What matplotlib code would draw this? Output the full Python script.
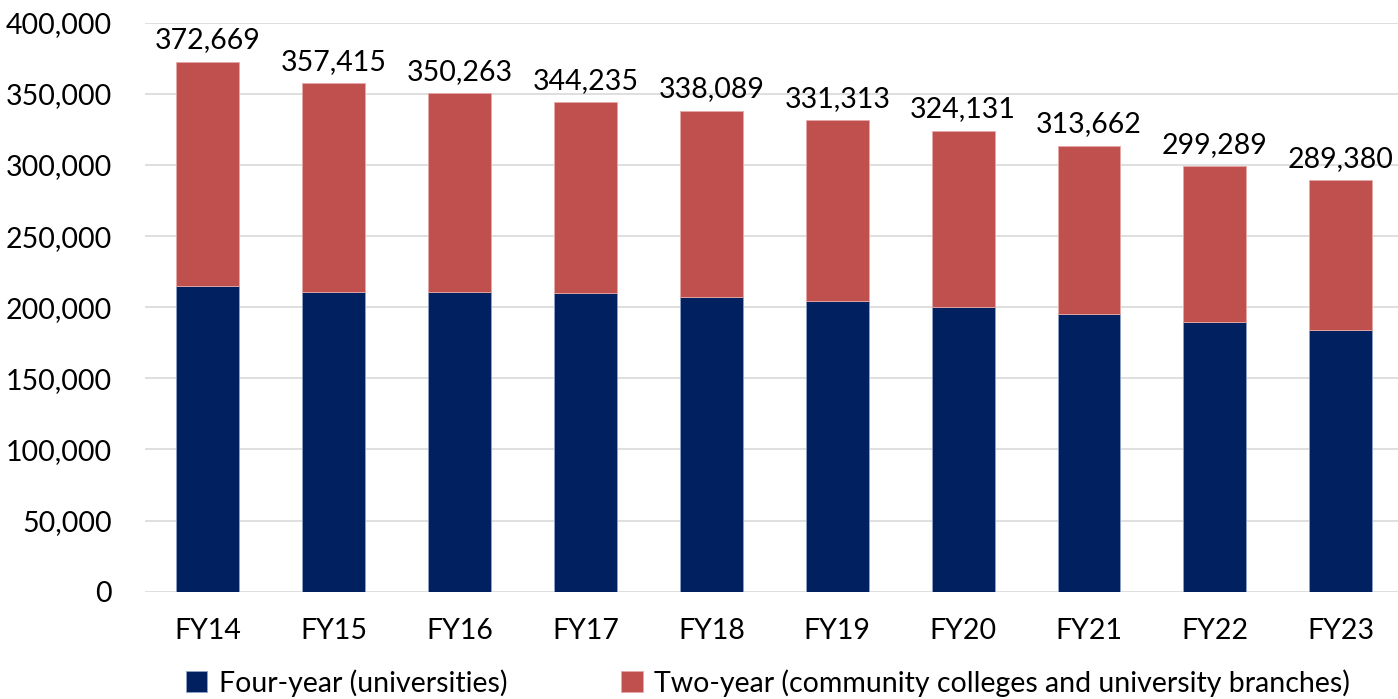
import matplotlib.pyplot as plt
from matplotlib.ticker import FuncFormatter

plt.rcParams['font.family'] = ['Lato', 'DejaVu Sans']

years = ['FY14', 'FY15', 'FY16', 'FY17', 'FY18', 'FY19', 'FY20', 'FY21', 'FY22', 'FY23']
totals = [372669, 357415, 350263, 344235, 338089, 331313, 324131, 313662, 299289, 289380]
four_year = [214900, 210900, 210900, 210000, 207200, 204600, 199900, 195000, 189400, 183800]
two_year = [t - f for t, f in zip(totals, four_year)]

navy = '#002060'
red = '#C0504D'

W, H = 1398, 699
fig = plt.figure(figsize=(W / 100, H / 100), dpi=100)
ax = fig.add_axes([145 / W, (H - 591.7) / H, (1403.7 - 145) / W, (591.7 - 22.7) / H])

x = range(len(years))
ax.bar(x, four_year, width=0.5, color=navy, edgecolor='#8fa3c8', linewidth=0.6,
       label='Four-year (universities)', zorder=3)
ax.bar(x, two_year, width=0.5, bottom=four_year, color=red, edgecolor='#e8a9a7',
       linewidth=0.6, label='Two-year (community colleges and university branches)', zorder=3)

for i, t in enumerate(totals):
    ax.annotate(f'{t:,}', (i, t), xytext=(0, 6), textcoords='offset points',
                ha='center', va='bottom', fontsize=20.5)

ax.set_xlim(-0.5, 9.5)
ax.set_ylim(0, 400000)
ax.set_yticks(range(0, 400001, 50000))
ax.yaxis.set_major_formatter(FuncFormatter(lambda v, p: f'{int(v):,}'))
ax.set_xticks(list(x))
ax.set_xticklabels(years)
ax.tick_params(axis='y', length=0, pad=24, labelsize=20.5)
ax.tick_params(axis='x', length=0, pad=19, labelsize=20.5)
ax.grid(axis='y', color='#d9d9d9', linewidth=1.2, zorder=0)
for s in ax.spines.values():
    s.set_visible(False)

ax.legend(loc='center', bbox_to_anchor=(768 / W, 16 / H), bbox_transform=fig.transFigure,
          ncol=2, frameon=False, fontsize=20.5, handlelength=0.75, handleheight=0.75,
          handletextpad=0.4, columnspacing=4.0)

fig.savefig('out.png', dpi=100)
